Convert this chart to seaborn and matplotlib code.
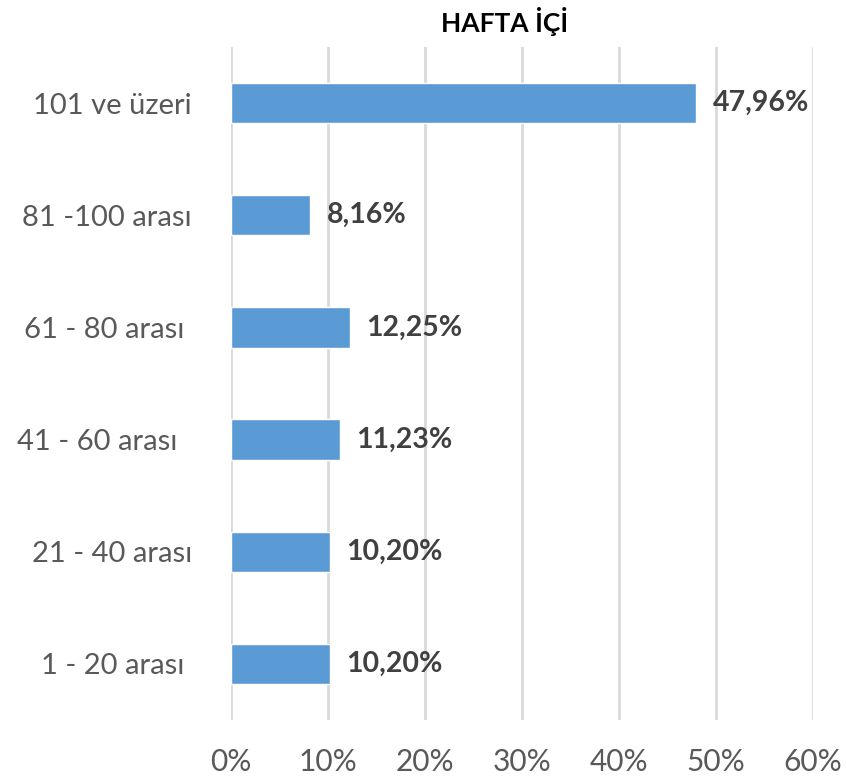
import pandas as pd
import numpy as np
import matplotlib
matplotlib.use("Agg")
import matplotlib.pyplot as plt
import seaborn as sns

# data
categories = ["101 ve üzeri", "81 -100 arası", "61 - 80 arası ", "41 - 60 arası  ", "21 - 40 arası", "1 - 20 arası "]
values = [47.96, 8.16, 12.25, 11.23, 10.20, 10.20]
xticks = [0, 10, 20, 30, 40, 50, 60]

df = pd.DataFrame({"grup": categories, "oran": values})

sns.set_style("white")
plt.rcParams["font.family"] = ["Lato", "DejaVu Sans"]

fig = plt.figure(figsize=(8.46, 7.84), dpi=100)
ax = fig.add_axes([0.273, 0.0816, 0.688, 0.8584])

sns.barplot(data=df, x="oran", y="grup", orient="h", color="#5B9BD5",
            width=0.36, saturation=1, ax=ax, zorder=3)

ax.set_xlim(0, 60)
ax.set_ylim(5.5, -0.5)
ax.set_xticks(xticks)
ax.set_xticklabels([f"{t}%" for t in xticks])
ax.xaxis.grid(True, color="#D9D9D9", linewidth=2, zorder=0)
ax.set_axisbelow(True)
for s in ax.spines.values():
    s.set_visible(False)
ax.tick_params(axis="x", length=0, pad=20, labelsize=21.5, labelcolor="#595959")
ax.tick_params(axis="y", length=0, pad=28, labelsize=21, labelcolor="#595959")
ax.set_xlabel("")
ax.set_ylabel("")

labels = [f"{v:.2f}%".replace(".", ",") for v in values]
ax.bar_label(ax.containers[0], labels=labels, padding=12, fontsize=20.5,
             fontweight="bold", color="#404040")

fig.text(0.596, 0.973, "HAFTA İÇİ", ha="center", va="center",
         fontsize=19, fontweight="bold", color="#000000")

fig.savefig("out.png", dpi=100)
